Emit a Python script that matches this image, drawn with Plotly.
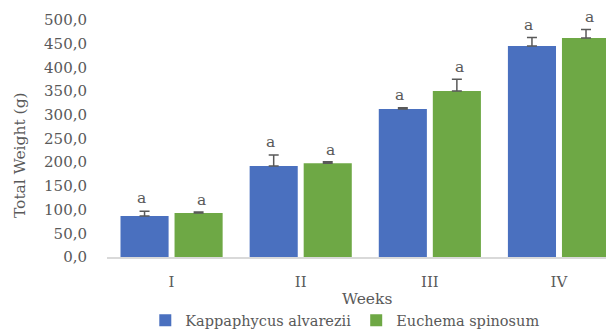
import plotly.graph_objects as go

weeks = ["I", "II", "III", "IV"]
kappa = [86.5, 192, 312, 445]
kappa_err = [10, 23, 3, 18]
euch = [93, 198, 350, 462]
euch_err = [2, 3, 25, 18]
letters_k = ["a", "a", "a", "a"]
letters_e = ["a", "a", "a", "a"]

xpos = list(range(len(weeks)))
font_family = "DejaVu Serif"
gray = "#595959"

fig = go.Figure()
fig.add_trace(go.Bar(
    x=xpos, y=kappa, name="Kappaphycus alvarezii",
    marker=dict(color="#4a70bf", line=dict(width=0)),
    error_y=dict(type="data", array=kappa_err, symmetric=False, arrayminus=[0]*4,
                 color=gray, thickness=1.5, width=5),
))
fig.add_trace(go.Bar(
    x=xpos, y=euch, name="Euchema spinosum",
    marker=dict(color="#6ea845", line=dict(width=0)),
    error_y=dict(type="data", array=euch_err, symmetric=False, arrayminus=[0]*4,
                 color=gray, thickness=1.5, width=5),
))

off = 0.233
for i in xpos:
    fig.add_annotation(x=i - off, y=kappa[i] + kappa_err[i], text=letters_k[i],
                       showarrow=False, yanchor="bottom", yshift=2,
                       font=dict(family=font_family, size=15.5, color=gray))
    fig.add_annotation(x=i + off, y=euch[i] + euch_err[i], text=letters_e[i],
                       showarrow=False, yanchor="bottom", yshift=1,
                       font=dict(family=font_family, size=15.5, color=gray))

# axis titles as annotations for exact placement
fig.add_annotation(xref="paper", yref="paper", x=-0.1716, y=0.43, text="Total Weight (g)",
                   textangle=-90, showarrow=False, xanchor="center", yanchor="middle",
                   font=dict(family=font_family, size=15.5, color=gray))
fig.add_annotation(xref="paper", yref="paper", x=0.513, y=-0.177, text="Weeks",
                   showarrow=False, xanchor="center", yanchor="middle",
                   font=dict(family=font_family, size=15.5, color=gray))

fig.update_layout(
    width=606, height=322,
    margin=dict(l=99, r=0, t=12, b=73, autoexpand=False),
    paper_bgcolor="white", plot_bgcolor="white",
    barmode="group", bargap=0.163, bargroupgap=0.11,
    separators=",.",
    font=dict(family=font_family, size=15, color=gray),
    showlegend=True,
    legend=dict(orientation="h", x=0.47, xanchor="center", y=-0.2, yanchor="top",
                font=dict(family=font_family, size=14.5, color=gray), itemwidth=30,
                bgcolor="rgba(0,0,0,0)"),
    xaxis=dict(range=[-0.5, 3.426], tickvals=xpos, ticktext=weeks, automargin=False,
               showgrid=False, zeroline=False, showline=True, linecolor="#d9d9d9",
               linewidth=2, ticks="", ticklabelstandoff=10),
    yaxis=dict(range=[0, 500], dtick=50, tickformat=".1f", showgrid=False, automargin=False,
               zeroline=False, showline=False, ticks="", ticklabelstandoff=19),
)

fig.write_html("out.html")
